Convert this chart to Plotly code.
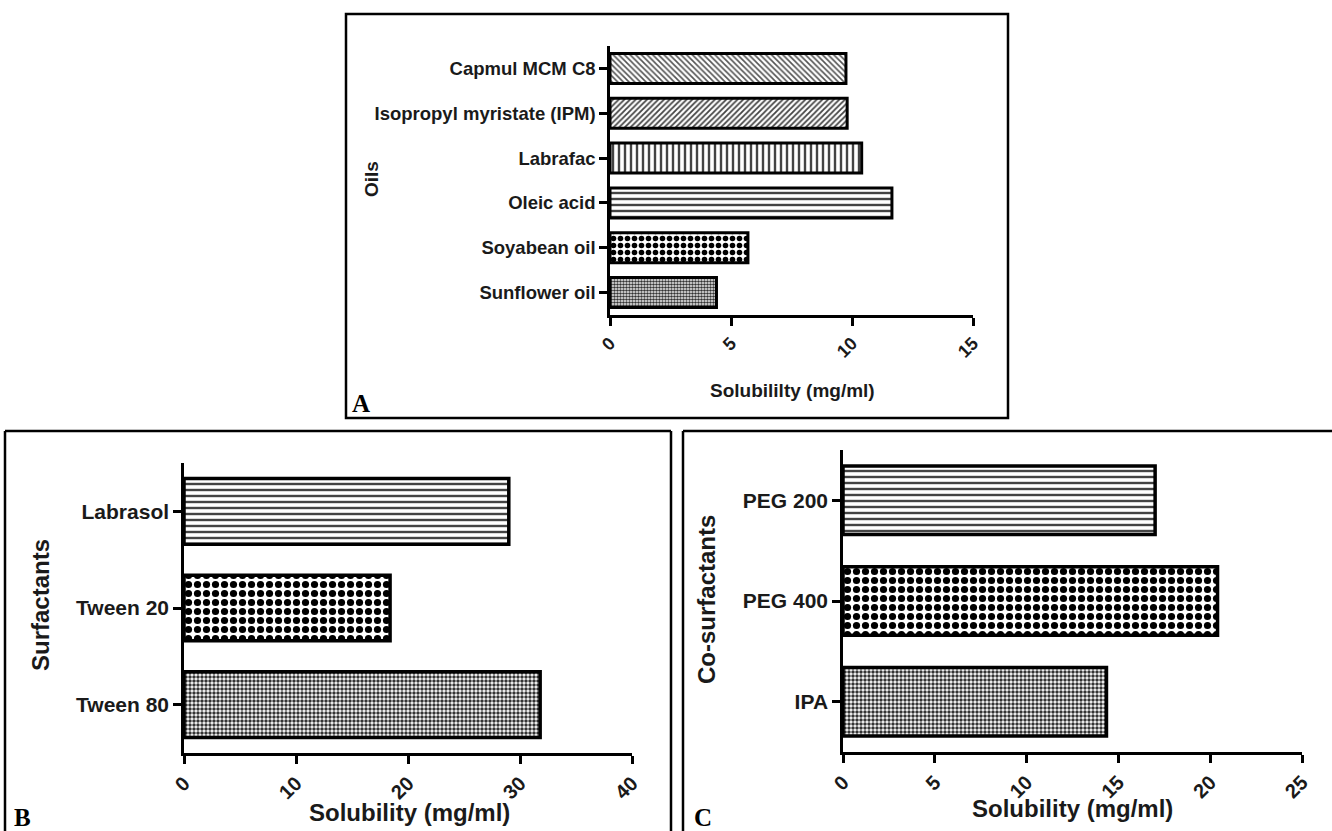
import plotly.graph_objects as go

# ---------------- data ----------------
oil_names = ["Capmul MCM C8", "Isopropyl myristate (IPM)", "Labrafac", "Oleic acid", "Soyabean oil", "Sunflower oil"]
oil_solubility = [9.75, 9.8, 10.4, 11.65, 5.7, 4.4]

surfactant_names = ["Labrasol", "Tween 20", "Tween 80"]
surfactant_solubility = [29.0, 18.4, 31.8]

cosurfactant_names = ["PEG 200", "PEG 400", "IPA"]
cosurfactant_solubility = [17.0, 20.4, 14.35]

oil_ticks = [0, 5, 10, 15]
surf_ticks = [0, 10, 20, 30, 40]
cosurf_ticks = [0, 5, 10, 15, 20, 25]

# ---------------- layout helpers ----------------
W, H = 1332, 831
def px(x):
    return x / W
def py(y):
    return 1 - y / H

FONT = "Liberation Sans, Arial, sans-serif"
SERIF = "Liberation Serif, Times New Roman, serif"

fig = go.Figure()

fig.add_trace(go.Bar(
    x=oil_solubility, y=oil_names, orientation="h", width=0.67,
    xaxis="x", yaxis="y",
    marker=dict(color="white", line=dict(color="black", width=3),
                pattern=dict(shape=["\\", "/", "|", "-", ".", "."],
                             size=[4, 4, 6, 6, 7, 3],
                             solidity=[0.4, 0.45, 0.4, 0.4, 0.5, 0.6],
                             fgcolor=["#555", "#444", "#444", "#444", "#000", "#333"],
                             fgopacity=1, fillmode="overlay")),
    showlegend=False, hoverinfo="x+y"))

fig.add_trace(go.Bar(
    x=surfactant_solubility, y=surfactant_names, orientation="h", width=0.68,
    xaxis="x2", yaxis="y2",
    marker=dict(color="white", line=dict(color="black", width=3.5),
                pattern=dict(shape=["-", ".", "."],
                             size=[6, 9, 4],
                             solidity=[0.4, 0.5, 0.6],
                             fgcolor=["#444", "#000", "#333"],
                             fgopacity=1, fillmode="overlay")),
    showlegend=False, hoverinfo="x+y"))

fig.add_trace(go.Bar(
    x=cosurfactant_solubility, y=cosurfactant_names, orientation="h", width=0.68,
    xaxis="x3", yaxis="y3",
    marker=dict(color="white", line=dict(color="black", width=3.5),
                pattern=dict(shape=["-", ".", "."],
                             size=[6, 9, 4],
                             solidity=[0.4, 0.5, 0.6],
                             fgcolor=["#444", "#000", "#333"],
                             fgopacity=1, fillmode="overlay")),
    showlegend=False, hoverinfo="x+y"))

def xaxis(domain, rng, ticks, anchor, size):
    return dict(domain=domain, range=rng, tickvals=ticks, ticktext=[str(t) for t in ticks],
                anchor=anchor, showline=True, linecolor="black", linewidth=2.5,
                ticks="outside", ticklen=8, tickwidth=2.5, tickcolor="black",
                tickangle=-45, showgrid=False, zeroline=False, automargin=False,
                tickfont=dict(family=FONT, size=size, color="#1a1a1a", weight="bold"),
                fixedrange=True)

def yaxis(domain, cats, anchor, size):
    n = len(cats)
    return dict(domain=domain, type="category", categoryorder="array", categoryarray=cats,
                range=[n - 0.5, -0.5], anchor=anchor, showline=True, linecolor="black",
                linewidth=2.5, ticks="outside", ticklen=8, tickwidth=2.5, tickcolor="black",
                showgrid=False, zeroline=False, automargin=False,
                tickfont=dict(family=FONT, size=size, color="#1a1a1a", weight="bold"),
                fixedrange=True)

ann = []
for text, x, y, size in [("Solubililty (mg/ml)", 792, 390, 19),
                         ("Solubility (mg/ml)", 409, 812, 24),
                         ("Solubility (mg/ml)", 1072, 808, 24)]:
    ann.append(dict(text=text, x=px(x), y=py(y), xref="paper", yref="paper",
                    xanchor="center", yanchor="middle", showarrow=False,
                    font=dict(family=FONT, size=size, color="#1a1a1a", weight="bold")))
for text, x, y, size in [("Oils", 371, 179, 19), ("Surfactants", 40, 605, 24), ("Co-surfactants", 706, 600, 24)]:
    ann.append(dict(text=text, x=px(x), y=py(y), xref="paper", yref="paper", textangle=-90,
                    xanchor="center", yanchor="middle", showarrow=False,
                    font=dict(family=FONT, size=size, color="#1a1a1a", weight="bold")))
for text, x, y in [("A", 350, 403), ("B", 12, 817), ("C", 692, 817)]:
    ann.append(dict(text=text, x=px(x), y=py(y), xref="paper", yref="paper",
                    xanchor="left", yanchor="middle", showarrow=False,
                    font=dict(family=SERIF, size=25, color="black", weight="bold")))

line = dict(color="black", width=2.5)
shapes = [
    dict(type="rect", xref="paper", yref="paper", x0=px(346), x1=px(1008), y0=py(418), y1=py(14), line=line),
    dict(type="line", xref="paper", yref="paper", x0=px(5), x1=px(5), y0=py(831), y1=py(431), line=line),
    dict(type="line", xref="paper", yref="paper", x0=px(5), x1=px(671), y0=py(431), y1=py(431), line=line),
    dict(type="line", xref="paper", yref="paper", x0=px(671), x1=px(671), y0=py(831), y1=py(431), line=line),
    dict(type="line", xref="paper", yref="paper", x0=px(683), x1=px(683), y0=py(831), y1=py(431), line=line),
    dict(type="line", xref="paper", yref="paper", x0=px(683), x1=px(1332), y0=py(431), y1=py(431), line=line),
]

fig.update_layout(
    width=W, height=H, margin=dict(l=0, r=0, t=0, b=0, autoexpand=False),
    paper_bgcolor="white", plot_bgcolor="white",
    xaxis=xaxis([px(610), px(973)], [0, 15], oil_ticks, "y", 18),
    yaxis=yaxis([py(315), py(46)], oil_names, "x", 18.5),
    xaxis2=xaxis([px(184), px(632)], [0, 40], surf_ticks, "y2", 20),
    yaxis2=yaxis([py(753), py(463)], surfactant_names, "x2", 21),
    xaxis3=xaxis([px(843), px(1302)], [0, 25], cosurf_ticks, "y3", 20),
    yaxis3=yaxis([py(752), py(450)], cosurfactant_names, "x3", 21),
    annotations=ann, shapes=shapes,
)

fig.write_html("out.html", config={"displayModeBar": False},
               post_script="document.body.style.margin='0';document.body.style.overflow='hidden';")
